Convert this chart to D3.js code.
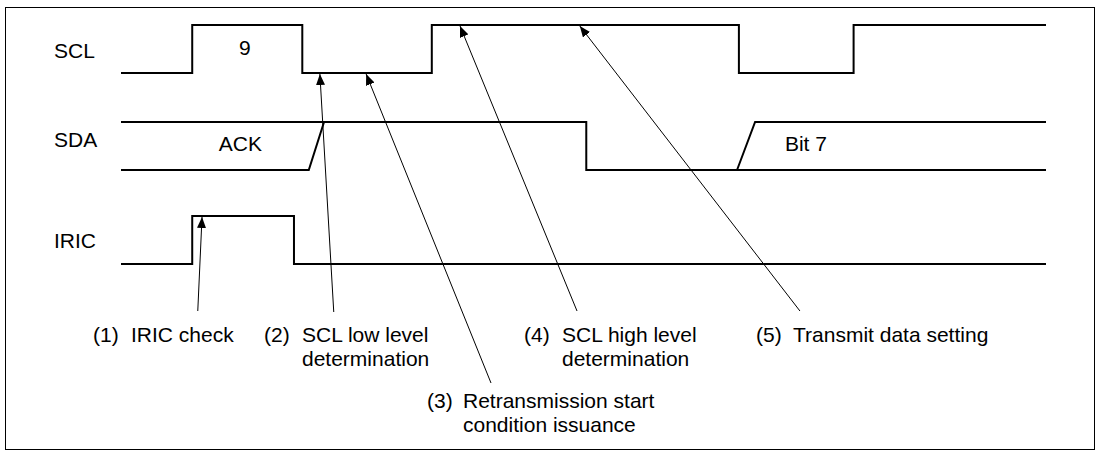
<!DOCTYPE html>
<html>
<head>
<meta charset="utf-8">
<script src="https://cdn.jsdelivr.net/npm/d3@7"></script>
<style>
  body { margin: 0; background: #fff; }
  svg { display: block; }
  text { font-family: "Liberation Sans", Arial, sans-serif; font-size: 21px; fill: #000; }
</style>
</head>
<body>
<svg width="1100" height="453"></svg>
<script>
// signal rows
var signals = ["SCL", "SDA", "IRIC"];

// waveforms as [time, level] (time 0..100 across the drawing)
var sclWave = [[0, 0], [7.7, 1], [19.6, 0], [33.6, 1], [66.8, 0], [79.2, 1], [100, 1]];
var iricWave = [[0, 0], [7.7, 1], [18.7, 0], [100, 0]];
// SDA is drawn as a bus: three separate strokes
var sdaA = [[0, 1], [50.3, 1], [50.3, 0], [100, 0]];
var sdaB = [[0, 0], [20.3, 0], [21.95, 1]];
var sdaC = [[66.6, 0], [68.55, 1], [100, 1]];

// texts inside the waveforms
var waveLabels = ["9", "ACK", "Bit 7"];
var waveLabelSignal = ["SCL", "SDA", "SDA"];
var waveLabelTime = [13.4, 12.9, 74.05];

// numbered annotations
var noteNums = ["(1)", "(2)", "(3)", "(4)", "(5)"];
var noteTexts = [["IRIC check"], ["SCL low level", "determination"], ["Retransmission start", "condition issuance"], ["SCL high level", "determination"], ["Transmit data setting"]];
var tipTime = [8.76, 21.5, 26.5, 36.65, 49.6];
var tipSignal = ["IRIC", "SCL", "SCL", "SCL", "SCL"];
var tipLevel = [1, 0, 0, 1, 1];
var tailTime = [8.3, 23.0, 40.0, 49.3, 73.4];

// layout only
var rowTop = [25, 122, 216], rowH = 48;
var nameX = 54, nameBase = [58, 147, 248];
var noteLayout = [
  {x: 93, tx: 131, y: 342, tailY: 311},
  {x: 264, tx: 302, y: 342, tailY: 312},
  {x: 427, tx: 463, y: 408, tailY: 383},
  {x: 524, tx: 562, y: 342, tailY: 311},
  {x: 756, tx: 793, y: 342, tailY: 311}
];

var svg = d3.select("svg");

var x = d3.scaleLinear().domain([0, 100]).range([121, 1046]);
var rowY = d3.scaleOrdinal().domain(signals).range(rowTop);
function yOf(sig, lvl) { return rowY(sig) + (1 - lvl) * rowH; }

// frame
svg.append("rect")
  .attr("x", 5.5).attr("y", 7.5)
  .attr("width", 1089).attr("height", 442)
  .attr("fill", "none").attr("stroke", "#000").attr("stroke-width", 1);

// arrow head
svg.append("defs").append("marker")
  .attr("id", "head")
  .attr("markerUnits", "userSpaceOnUse")
  .attr("markerWidth", 11).attr("markerHeight", 9)
  .attr("refX", 11).attr("refY", 4.5)
  .attr("orient", "auto")
  .append("path").attr("d", "M0,0L11,4.5L0,9Z").attr("fill", "#000");

// signal names
svg.append("g").selectAll("text")
  .data(signals)
  .join("text")
  .attr("x", nameX)
  .attr("y", function(d, i) { return nameBase[i]; })
  .text(function(d) { return d; });

// waveforms
function wave(sig, curve) {
  return d3.line()
    .x(function(d) { return x(d[0]); })
    .y(function(d) { return yOf(sig, d[1]); })
    .curve(curve);
}
var waves = [
  {sig: "SCL", pts: sclWave, curve: d3.curveStepAfter},
  {sig: "SDA", pts: sdaA, curve: d3.curveLinear},
  {sig: "SDA", pts: sdaB, curve: d3.curveLinear},
  {sig: "SDA", pts: sdaC, curve: d3.curveLinear},
  {sig: "IRIC", pts: iricWave, curve: d3.curveStepAfter}
];
svg.append("g").selectAll("path")
  .data(waves)
  .join("path")
  .attr("d", function(d) { return wave(d.sig, d.curve)(d.pts); })
  .attr("fill", "none")
  .attr("stroke", "#000")
  .attr("stroke-width", 2)
  .attr("stroke-linejoin", "miter");

// labels inside waveforms
svg.append("g").selectAll("text")
  .data(waveLabels)
  .join("text")
  .attr("x", function(d, i) { return x(waveLabelTime[i]); })
  .attr("y", function(d, i) { return rowY(waveLabelSignal[i]) + (waveLabelSignal[i] == "SCL" ? 30 : 29); })
  .attr("text-anchor", "middle")
  .text(function(d) { return d; });

// annotation arrows
svg.append("g").selectAll("line")
  .data(noteNums)
  .join("line")
  .attr("x1", function(d, i) { return x(tailTime[i]); })
  .attr("y1", function(d, i) { return noteLayout[i].tailY; })
  .attr("x2", function(d, i) { return x(tipTime[i]); })
  .attr("y2", function(d, i) { return yOf(tipSignal[i], tipLevel[i]) + 1; })
  .attr("stroke", "#000")
  .attr("stroke-width", 1)
  .attr("marker-end", "url(#head)");

// annotation texts
var notes = svg.append("g").selectAll("g")
  .data(noteNums)
  .join("g");
notes.append("text")
  .attr("x", function(d, i) { return noteLayout[i].x; })
  .attr("y", function(d, i) { return noteLayout[i].y; })
  .text(function(d) { return d; });
notes.each(function(d, i) {
  d3.select(this).selectAll("text.line")
    .data(noteTexts[i])
    .join("text")
    .attr("class", "line")
    .attr("x", noteLayout[i].tx)
    .attr("y", function(t, j) { return noteLayout[i].y + j * 24; })
    .text(function(t) { return t; });
});
</script>
</body>
</html>
